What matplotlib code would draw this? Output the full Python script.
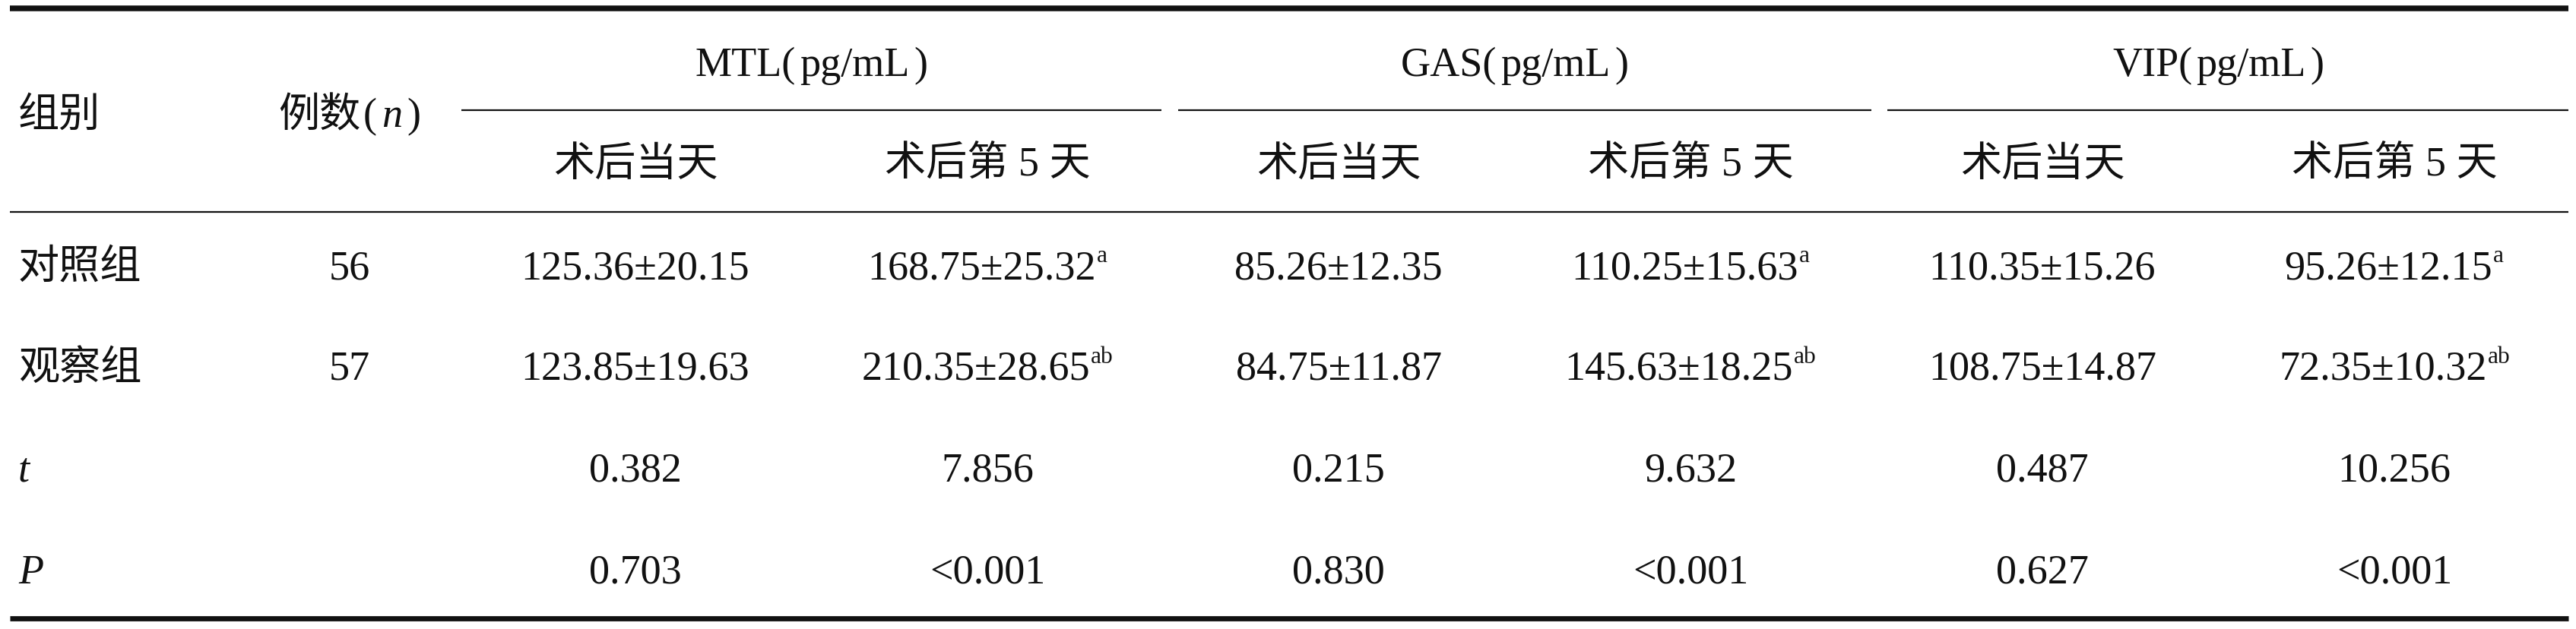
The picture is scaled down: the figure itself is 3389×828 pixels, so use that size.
import matplotlib
matplotlib.use("Agg")
import matplotlib.pyplot as plt

# ---------------- data ----------------
groups = ["对照组", "观察组"]
n_cases = [56, 57]
markers = ["MTL", "GAS", "VIP"]
unit = "pg/mL"
time_labels = ["术后当天", "术后第 5 天"]

mtl_d0_mean = [125.36, 123.85]
mtl_d0_sd = [20.15, 19.63]
mtl_d5_mean = [168.75, 210.35]
mtl_d5_sd = [25.32, 28.65]
gas_d0_mean = [85.26, 84.75]
gas_d0_sd = [12.35, 11.87]
gas_d5_mean = [110.25, 145.63]
gas_d5_sd = [15.63, 18.25]
vip_d0_mean = [110.35, 108.75]
vip_d0_sd = [15.26, 14.87]
vip_d5_mean = [95.26, 72.35]
vip_d5_sd = [12.15, 10.32]
d5_sup = ["a", "ab"]

t_values = [0.382, 7.856, 0.215, 9.632, 0.487, 10.256]
p_values = ["0.703", "<0.001", "0.830", "<0.001", "0.627", "<0.001"]

# ---------------- layout ----------------
W, H = 3389, 829
FS = 39
SUP = FS * 0.58
TXT = "#111111"
FAM = ["Liberation Serif", "Noto Sans CJK SC"]

fig = plt.figure(figsize=(W / 100, H / 100), dpi=100)
ax = fig.add_axes([0, 0, 1, 1])
ax.set_xlim(0, W)
ax.set_ylim(H, 0)
ax.axis("off")
renderer = fig.canvas.get_renderer()

x_left = 13
x_right = 3379
x_group = 24
x_n = 460
col_x = [836, 1299, 1761, 2224, 2687, 3150]
span_rules = [(607, 1528), (1550, 2462), (2483, 3379)]

base_hdr1 = 100
base_hdr2 = 232
base_span = 167
row_base = [367, 500, 633, 768]


def draw_pieces(x, y, pieces, ha="center"):
    items = []
    for p in pieces:
        t = ax.text(0, y - p.get("dy", 0), p["text"], fontsize=p.get("size", FS),
                    fontstyle=p.get("style", "normal"), family=FAM,
                    ha="left", va="baseline", color=TXT)
        w = t.get_window_extent(renderer).width
        items.append((t, w, p.get("gap", 0)))
    total = sum(w + g for _, w, g in items)
    cur = x - total / 2 if ha == "center" else x
    for t, w, g in items:
        cur += g
        t.set_x(cur)
        cur += w


def val_pieces(mean, sd, sup=None):
    pcs = [{"text": f"{mean:.2f}±{sd:.2f}"}]
    if sup:
        pcs.append({"text": sup, "size": SUP, "dy": 22, "gap": 1})
    return pcs


# rules
ax.hlines(12, x_left, x_right, color=TXT, lw=5.4, capstyle="butt")
ax.hlines(815, x_left, x_right, color=TXT, lw=4.9, capstyle="butt")
ax.hlines(280, x_left, x_right, color=TXT, lw=1.6, capstyle="butt")
for a, b in span_rules:
    ax.hlines(146, a, b, color=TXT, lw=1.6, capstyle="butt")

# header
draw_pieces(x_group, base_span, [{"text": "组别"}], ha="left")
draw_pieces(x_n, base_span, [{"text": "例数"}, {"text": "(", "gap": 3},
                             {"text": "n", "style": "italic", "gap": 7},
                             {"text": ")", "gap": 6}])
for i, m in enumerate(markers):
    cx = (col_x[2 * i] + col_x[2 * i + 1]) / 2
    draw_pieces(cx, base_hdr1, [{"text": m + "("}, {"text": unit, "gap": 5},
                                {"text": ")", "gap": 6}])
    for j in range(2):
        draw_pieces(col_x[2 * i + j], base_hdr2, [{"text": time_labels[j]}])

# body
means = [mtl_d0_mean, mtl_d5_mean, gas_d0_mean, gas_d5_mean, vip_d0_mean, vip_d5_mean]
sds = [mtl_d0_sd, mtl_d5_sd, gas_d0_sd, gas_d5_sd, vip_d0_sd, vip_d5_sd]
for r in range(2):
    y = row_base[r]
    draw_pieces(x_group, y, [{"text": groups[r]}], ha="left")
    draw_pieces(x_n, y, [{"text": str(n_cases[r])}])
    for c in range(6):
        sup = d5_sup[r] if c % 2 == 1 else None
        draw_pieces(col_x[c], y, val_pieces(means[c][r], sds[c][r], sup))

draw_pieces(x_group, row_base[2], [{"text": "t", "style": "italic"}], ha="left")
draw_pieces(x_group, row_base[3], [{"text": "P", "style": "italic"}], ha="left")
for c in range(6):
    draw_pieces(col_x[c], row_base[2], [{"text": f"{t_values[c]:.3f}"}])
    draw_pieces(col_x[c], row_base[3], [{"text": p_values[c]}])

fig.savefig("out.png", dpi=100, facecolor="white")
